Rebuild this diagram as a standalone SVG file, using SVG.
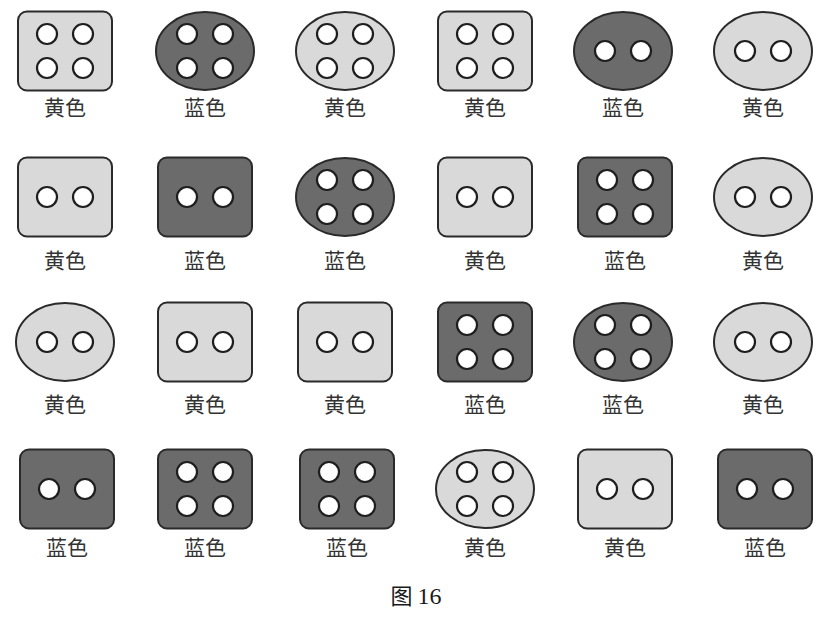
<svg xmlns="http://www.w3.org/2000/svg" width="834" height="617" viewBox="0 0 834 617">
<style>
.y{fill:#d9d9d9;stroke:#2a2a2a;stroke-width:2}
.b{fill:#6b6b6b;stroke:#2a2a2a;stroke-width:2}
.h{fill:#ffffff;stroke:#1e1e1e;stroke-width:2.2}
.t{font-family:"Noto Sans CJK SC","Noto Sans CJK JP",sans-serif;font-size:21px;fill:#333333;text-anchor:middle}
.c{font-family:"Noto Sans CJK SC","Liberation Serif",serif;font-size:22px;fill:#1a1a1a;text-anchor:middle}
.n{font-family:"Liberation Serif",serif;font-size:24px}
</style>
<defs>
<rect id="R" x="-47" y="-39.5" width="94" height="79" rx="9"/>
<ellipse id="E" cx="0" cy="0" rx="49" ry="39"/>
<g id="H2"><circle class="h" cx="-18" cy="0" r="10"/><circle class="h" cx="18" cy="0" r="10"/></g>
<g id="H4"><circle class="h" cx="-18" cy="-17" r="10"/><circle class="h" cx="18" cy="-17" r="10"/><circle class="h" cx="-18" cy="17" r="10"/><circle class="h" cx="18" cy="17" r="10"/></g>
</defs>
<g id="connectors"></g>
<!-- Row 1 -->
<g id="r1c1" transform="translate(65,51)"><use href="#R" class="y"/><use href="#H4"/><text class="t" y="64">黄色</text></g>
<g id="r1c2" transform="translate(205,51)"><use href="#E" class="b"/><use href="#H4"/><text class="t" y="64">蓝色</text></g>
<g id="r1c3" transform="translate(345,51)"><use href="#E" class="y"/><use href="#H4"/><text class="t" y="64">黄色</text></g>
<g id="r1c4" transform="translate(485,51)"><use href="#R" class="y"/><use href="#H4"/><text class="t" y="64">黄色</text></g>
<g id="r1c5" transform="translate(623,51)"><use href="#E" class="b"/><use href="#H2"/><text class="t" y="64">蓝色</text></g>
<g id="r1c6" transform="translate(763,51)"><use href="#E" class="y"/><use href="#H2"/><text class="t" y="64">黄色</text></g>
<!-- Row 2 -->
<g id="r2c1" transform="translate(65,197)"><use href="#R" class="y"/><use href="#H2"/><text class="t" y="71">黄色</text></g>
<g id="r2c2" transform="translate(205,197)"><use href="#R" class="b"/><use href="#H2"/><text class="t" y="71">蓝色</text></g>
<g id="r2c3" transform="translate(345,197)"><use href="#E" class="b"/><use href="#H4"/><text class="t" y="71">蓝色</text></g>
<g id="r2c4" transform="translate(485,197)"><use href="#R" class="y"/><use href="#H2"/><text class="t" y="71">黄色</text></g>
<g id="r2c5" transform="translate(625,197)"><use href="#R" class="b"/><use href="#H4"/><text class="t" y="71">蓝色</text></g>
<g id="r2c6" transform="translate(763,197)"><use href="#E" class="y"/><use href="#H2"/><text class="t" y="71">黄色</text></g>
<!-- Row 3 -->
<g id="r3c1" transform="translate(65,342)"><use href="#E" class="y"/><use href="#H2"/><text class="t" y="70">黄色</text></g>
<g id="r3c2" transform="translate(205,342)"><use href="#R" class="y"/><use href="#H2"/><text class="t" y="70">黄色</text></g>
<g id="r3c3" transform="translate(345,342)"><use href="#R" class="y"/><use href="#H2"/><text class="t" y="70">黄色</text></g>
<g id="r3c4" transform="translate(485,342)"><use href="#R" class="b"/><use href="#H4"/><text class="t" y="70">蓝色</text></g>
<g id="r3c5" transform="translate(623,342)"><use href="#E" class="b"/><use href="#H4"/><text class="t" y="70">蓝色</text></g>
<g id="r3c6" transform="translate(763,342)"><use href="#E" class="y"/><use href="#H2"/><text class="t" y="70">黄色</text></g>
<!-- Row 4 -->
<g id="r4c1" transform="translate(67,489)"><use href="#R" class="b"/><use href="#H2"/><text class="t" y="66">蓝色</text></g>
<g id="r4c2" transform="translate(205,489)"><use href="#R" class="b"/><use href="#H4"/><text class="t" y="66">蓝色</text></g>
<g id="r4c3" transform="translate(347,489)"><use href="#R" class="b"/><use href="#H4"/><text class="t" y="66">蓝色</text></g>
<g id="r4c4" transform="translate(485,489)"><use href="#E" class="y"/><use href="#H4"/><text class="t" y="66">黄色</text></g>
<g id="r4c5" transform="translate(625,489)"><use href="#R" class="y"/><use href="#H2"/><text class="t" y="66">黄色</text></g>
<g id="r4c6" transform="translate(765,489)"><use href="#R" class="b"/><use href="#H2"/><text class="t" y="66">蓝色</text></g>
<text id="caption" class="c" x="416" y="604">图 <tspan class="n">16</tspan></text>
</svg>
